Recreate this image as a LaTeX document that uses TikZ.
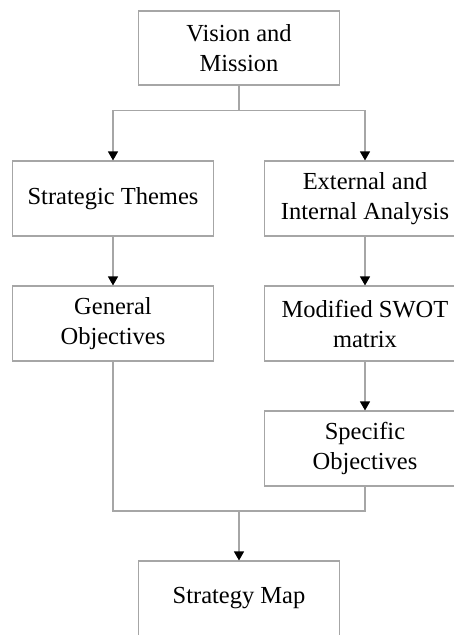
\documentclass[tikz,border=0pt]{standalone}
\usepackage{fontspec}
\setmainfont{Liberation Serif}
\usetikzlibrary{arrows.meta,positioning}

\begin{document}
\begin{tikzpicture}[x=1pt,y=1pt,
                    box/.style={draw=black!35,line width=1.1pt,align=center,
                                minimum width=201pt,minimum height=75pt,inner sep=0pt,
                                font=\fontsize{24.5}{30}\selectfont},
                    link/.style={draw=black!35,line width=1.1pt},
                    arr/.style={link,-{Triangle[color=black,width=10pt,length=9pt]}}]
\clip (0,0) rectangle (454,-635);

\node[box,minimum height=74pt] (vision) at (239,-48) {Vision and\\Mission};
\node[box] (themes) at (113,-198.5) {Strategic Themes};
\node[box] (analysis) at (365,-198.5) {External and\\Internal Analysis};
\node[box] (general) at (113,-323.5) {General\\Objectives};
\node[box] (swot) at (365,-323.5) {Modified SWOT\\matrix};
\node[box] (specific) at (365,-448.5) {Specific\\Objectives};
\node[box] (map) at (239,-598.5) {Strategy Map};

% split below the top box
\draw[link] (vision.south) -- ++(0,-25) coordinate (split);
\draw[arr] (split) -| (themes.north);
\draw[arr] (split) -| (analysis.north);

\draw[arr] (themes) -- (general);
\draw[arr] (analysis) -- (swot);
\draw[arr] (swot) -- (specific);

% join above the strategy map
\coordinate (join) at (239,-511);
\draw[link] (general.south) |- (join);
\draw[link] (specific.south) |- (join);
\draw[arr] (join) -- (map.north);
\end{tikzpicture}
\end{document}
